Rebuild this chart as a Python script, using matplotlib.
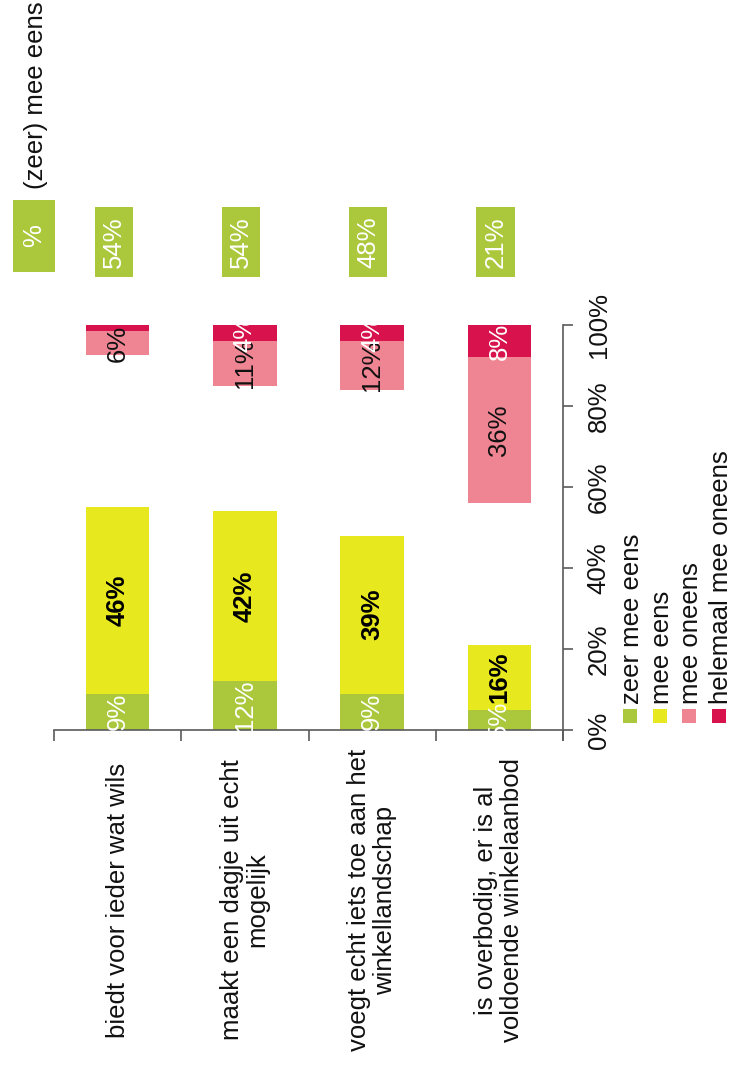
import numpy as np
import matplotlib
matplotlib.use("Agg")
import matplotlib.pyplot as plt
from matplotlib.patches import Rectangle
from matplotlib.transforms import blended_transform_factory

plt.rcParams['font.family'] = ['Liberation Sans', 'DejaVu Sans']

categories = ["biedt voor ieder wat wils",
              "maakt een dagje uit echt\nmogelijk",
              "voegt echt iets toe aan het\nwinkellandschap",
              "is overbodig, er is al\nvoldoende winkelaanbod"]
zeer_eens = np.array([9, 12, 9, 5])
mee_eens = np.array([46, 42, 39, 16])
mee_oneens = np.array([6, 11, 12, 36])
helemaal_oneens = np.array([1.5, 4, 4, 8])
totaal_eens = [54, 54, 48, 21]
legend_labels = ["zeer mee eens", "mee eens", "mee oneens", "helemaal mee oneens"]

GREEN = '#abc83c'
YELLOW = '#e8e81e'
PINK = '#ef8492'
RED = '#d7124c'
colors = [GREEN, YELLOW, PINK, RED]
TXT = '#111111'
AXC = '#5a5a5a'
FS = 18.5

W, H = 734, 1079
fig = plt.figure(figsize=(W / 100, H / 100), dpi=100)


def fx(px):
    return px / W


def fy(py):
    return 1 - py / H


ax = fig.add_axes([fx(54), fy(730), fx(563) - fx(54), fy(325) - fy(730)])

x = np.arange(len(categories))
bw = 0.5
ax.bar(x, zeer_eens, width=bw, color=GREEN)
ax.bar(x, mee_eens, width=bw, bottom=zeer_eens, color=YELLOW)
# disagreement is stacked down from the 100% end, the neutral part stays blank
start = 100 - mee_oneens - helemaal_oneens
ax.bar(x, mee_oneens, width=bw, bottom=start, color=PINK)
ax.bar(x, helemaal_oneens, width=bw, bottom=start + mee_oneens, color=RED)

for i in x:
    ax.text(i, zeer_eens[i] / 2, f"{zeer_eens[i]}%", rotation=90, color='white',
            ha='center', va='center', fontsize=FS)
    ax.text(i, zeer_eens[i] + mee_eens[i] / 2, f"{mee_eens[i]}%", rotation=90,
            color='black', ha='center', va='center', fontsize=FS, fontweight='bold')
    ax.text(i, start[i] + mee_oneens[i] / 2, f"{mee_oneens[i]}%", rotation=90,
            color=TXT, ha='center', va='center', fontsize=FS)
    if helemaal_oneens[i] >= 3:
        ax.text(i, start[i] + mee_oneens[i] + helemaal_oneens[i] / 2,
                f"{helemaal_oneens[i]:.0f}%", rotation=90, color='white',
                ha='center', va='center', fontsize=FS)

ax.set_xlim(-0.5, 3.5)
ax.set_ylim(0, 100)

# value axis on the right, labels turned like the rest of the text
ax.yaxis.tick_right()
ax.set_yticks(range(0, 101, 20))
ax.set_yticklabels([f"{v}%" for v in range(0, 101, 20)])
ax.tick_params(axis='y', direction='out', length=7, width=1.2, color=AXC,
               labelsize=FS, labelcolor=TXT, pad=10)
for lbl in ax.get_yticklabels():
    lbl.set_rotation(90)
    lbl.set_va('center')
    lbl.set_ha('left')

ax.set_xticks(np.arange(-0.5, 4, 1))
ax.set_xticklabels([])
ax.tick_params(axis='x', direction='out', length=8, width=1.2, color=AXC)

for side in ['left', 'top']:
    ax.spines[side].set_visible(False)
for side in ['right', 'bottom']:
    ax.spines[side].set_color(AXC)
    ax.spines[side].set_linewidth(1.2)
ax.spines['right'].set_bounds(-2.5, 100)

bt = blended_transform_factory(ax.transData, ax.transAxes)

# category names under the bars
for i, cat in enumerate(categories):
    ax.text(i, -0.42, cat, transform=bt, rotation=90, ha='center', va='center',
            multialignment='center', fontsize=FS, color=TXT, linespacing=1.1)

# column with totals of (zeer) mee eens
box_w, box_h = 0.30, 0.173
for i, t in enumerate(totaal_eens):
    cx = i - 0.03
    ax.add_patch(Rectangle((cx - box_w / 2, 1.205 - box_h / 2), box_w, box_h,
                           transform=bt, fc=GREEN, ec='none', clip_on=False))
    ax.text(cx, 1.205, f"{t}%", transform=bt, rotation=90, ha='center',
            va='center', color='white', fontsize=FS, clip_on=False)
ax.add_patch(Rectangle((-0.657 - 0.165, 1.22 - 0.089), 0.33, 0.178,
                       transform=bt, fc=GREEN, ec='none', clip_on=False))
ax.text(-0.657, 1.22, "%", transform=bt, rotation=90, ha='center', va='center',
        color='white', fontsize=FS, clip_on=False)
ax.text(-0.641, 1.568, "(zeer) mee eens", transform=bt, rotation=90,
        ha='center', va='center', color=TXT, fontsize=FS, clip_on=False)

# legend, stacked left to right
for k, (lab, col) in enumerate(zip(legend_labels, colors)):
    cx = 630 + 29.6 * k
    fig.add_artist(Rectangle((fx(cx - 7), fy(723)), 14 / W, 14 / H,
                             transform=fig.transFigure, fc=col, ec='none'))
    fig.text(fx(cx + 2), fy(704), lab, rotation=90, ha='center', va='bottom',
             fontsize=FS, color=TXT)

fig.savefig("out.png", dpi=100, facecolor='white')
